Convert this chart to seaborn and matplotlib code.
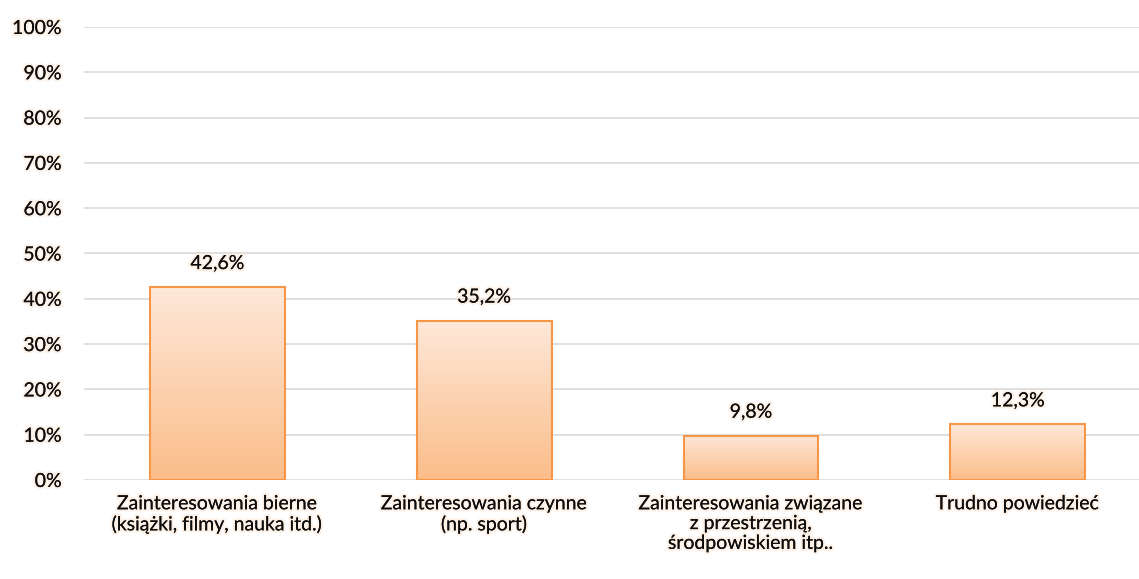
import numpy as np
import pandas as pd
import matplotlib
matplotlib.use("Agg")
import matplotlib.pyplot as plt
import matplotlib.patheffects as pe
import seaborn as sns
from matplotlib.colors import LinearSegmentedColormap

categories = [
    "Zainteresowania bierne\n(książki, filmy, nauka itd.)",
    "Zainteresowania czynne\n(np. sport)",
    "Zainteresowania związane\nz przestrzenią,\nśrodpowiskiem itp..",
    "Trudno powiedzieć",
]
values = [42.6, 35.2, 9.8, 12.3]
labels = ["42,6%", "35,2%", "9,8%", "12,3%"]
yticks = list(range(0, 101, 10))
ytick_labels = [f"{t}%" for t in yticks]

sns.set_theme(style="white")
plt.rcParams["font.family"] = ["Lato", "DejaVu Sans"]

fig = plt.figure(figsize=(11.39, 5.79), dpi=100)
ax = fig.add_axes([0.0737, 0.171, 0.937, 0.7824])

df = pd.DataFrame({"cat": categories, "val": values})
sns.barplot(data=df, x="cat", y="val", ax=ax, width=0.505,
            color="#fbc08f", edgecolor="#f79646", linewidth=1.5, zorder=3)

ax.set_ylim(0, 100)
ax.set_xlim(-0.5, 3.5)
ax.set_yticks(yticks)
ax.set_yticklabels(ytick_labels)
ax.yaxis.grid(True, color="#d9d9d9", linewidth=1.2, zorder=0)
ax.set_axisbelow(True)
for s in ax.spines.values():
    s.set_visible(False)
ax.set_xlabel("")
ax.set_ylabel("")

glow = [pe.withStroke(linewidth=3, foreground="#fde6d4", alpha=0.6), pe.Normal()]

ax.tick_params(axis="y", length=0, pad=16, labelsize=14, labelcolor="#0d0d0d")
ax.tick_params(axis="x", length=0, pad=11, labelsize=14, labelcolor="#0d0d0d")
for t in ax.get_yticklabels() + ax.get_xticklabels():
    t.set_path_effects(glow)
    t.set_linespacing(1.2)

# gradient fill
cmap = LinearSegmentedColormap.from_list("g", ["#fbbd89", "#fee8d9"])
grad = np.linspace(0, 1, 256).reshape(-1, 1)
for p in ax.patches:
    x0, y0 = p.get_x(), p.get_y()
    w, h = p.get_width(), p.get_height()
    im = ax.imshow(grad, extent=[x0, x0 + w, y0, y0 + h], origin="lower",
                   cmap=cmap, aspect="auto", zorder=3.5)
    im.set_clip_path(p)
    p.set_facecolor("none")
    p.set_zorder(4)

ax.set_xlim(-0.5, 3.5)
ax.set_ylim(0, 100)

for i, (v, lab) in enumerate(zip(values, labels)):
    ax.text(i, v + 3.3, lab, ha="center", va="bottom", fontsize=14,
            color="#0d0d0d", path_effects=glow, zorder=5)

fig.savefig("out.png", dpi=100)
